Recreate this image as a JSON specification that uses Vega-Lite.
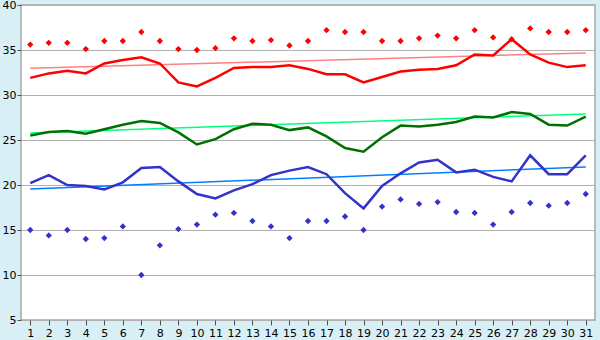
{
  "$schema": "https://vega.github.io/schema/vega-lite/v6.json",
  "autosize": "none",
  "width": 574,
  "height": 315,
  "padding": {"left": 21, "top": 5, "right": 5, "bottom": 20},
  "background": "#d9eff6",
  "config": {
    "view": {"fill": "white", "stroke": "#a8a8a8", "strokeWidth": 1.5},
    "axis": {"labelFont": "DejaVu Sans", "labelFontSize": 11, "labelColor": "black", "domainColor": "#a8a8a8", "tickColor": "#505050", "gridColor": "#b0b0b0", "title": null}
  },
  "datasets": {
    "d": [
      {"day": 1, "rd": 35.6, "rl": 31.9, "gl": 25.5, "bl": 20.2, "bd": 15.0},
      {"day": 2, "rd": 35.8, "rl": 32.4, "gl": 25.9, "bl": 21.1, "bd": 14.4},
      {"day": 3, "rd": 35.8, "rl": 32.7, "gl": 26.0, "bl": 20.0, "bd": 15.0},
      {"day": 4, "rd": 35.1, "rl": 32.4, "gl": 25.7, "bl": 19.9, "bd": 14.0},
      {"day": 5, "rd": 36.0, "rl": 33.5, "gl": 26.2, "bl": 19.5, "bd": 14.1},
      {"day": 6, "rd": 36.0, "rl": 33.9, "gl": 26.7, "bl": 20.3, "bd": 15.4},
      {"day": 7, "rd": 37.0, "rl": 34.2, "gl": 27.1, "bl": 21.9, "bd": 10.0},
      {"day": 8, "rd": 36.0, "rl": 33.5, "gl": 26.9, "bl": 22.0, "bd": 13.3},
      {"day": 9, "rd": 35.1, "rl": 31.4, "gl": 25.85, "bl": 20.4, "bd": 15.1},
      {"day": 10, "rd": 35.0, "rl": 30.95, "gl": 24.5, "bl": 19.0, "bd": 15.6},
      {"day": 11, "rd": 35.2, "rl": 31.9, "gl": 25.1, "bl": 18.5, "bd": 16.7},
      {"day": 12, "rd": 36.3, "rl": 33.0, "gl": 26.2, "bl": 19.4, "bd": 16.9},
      {"day": 13, "rd": 36.0, "rl": 33.1, "gl": 26.8, "bl": 20.1, "bd": 16.0},
      {"day": 14, "rd": 36.1, "rl": 33.1, "gl": 26.7, "bl": 21.1, "bd": 15.4},
      {"day": 15, "rd": 35.5, "rl": 33.3, "gl": 26.1, "bl": 21.6, "bd": 14.1},
      {"day": 16, "rd": 36.0, "rl": 32.9, "gl": 26.4, "bl": 22.0, "bd": 16.0},
      {"day": 17, "rd": 37.2, "rl": 32.3, "gl": 25.4, "bl": 21.2, "bd": 16.0},
      {"day": 18, "rd": 37.0, "rl": 32.3, "gl": 24.1, "bl": 19.1, "bd": 16.5},
      {"day": 19, "rd": 37.0, "rl": 31.4, "gl": 23.7, "bl": 17.4, "bd": 15.0},
      {"day": 20, "rd": 36.0, "rl": 32.0, "gl": 25.3, "bl": 19.9, "bd": 17.6},
      {"day": 21, "rd": 36.0, "rl": 32.6, "gl": 26.6, "bl": 21.3, "bd": 18.4},
      {"day": 22, "rd": 36.3, "rl": 32.8, "gl": 26.5, "bl": 22.5, "bd": 17.9},
      {"day": 23, "rd": 36.6, "rl": 32.9, "gl": 26.7, "bl": 22.8, "bd": 18.1},
      {"day": 24, "rd": 36.3, "rl": 33.3, "gl": 27.0, "bl": 21.4, "bd": 17.0},
      {"day": 25, "rd": 37.2, "rl": 34.5, "gl": 27.6, "bl": 21.7, "bd": 16.9},
      {"day": 26, "rd": 36.4, "rl": 34.4, "gl": 27.5, "bl": 20.9, "bd": 15.6},
      {"day": 27, "rd": 36.2, "rl": 36.2, "gl": 28.1, "bl": 20.4, "bd": 17.0},
      {"day": 28, "rd": 37.4, "rl": 34.5, "gl": 27.9, "bl": 23.3, "bd": 18.0},
      {"day": 29, "rd": 37.0, "rl": 33.6, "gl": 26.7, "bl": 21.2, "bd": 17.7},
      {"day": 30, "rd": 37.0, "rl": 33.1, "gl": 26.6, "bl": 21.2, "bd": 18.0},
      {"day": 31, "rd": 37.2, "rl": 33.3, "gl": 27.6, "bl": 23.3, "bd": 19.0}
    ],
    "t": [
      {"day": 1, "rt": 32.96, "gt": 25.78, "bt": 19.55},
      {"day": 31, "rt": 34.67, "gt": 27.9, "bt": 22.0}
    ]
  },
  "encoding": {
    "x": {"field": "day", "type": "quantitative", "scale": {"domain": [0.5, 31.5], "nice": false, "zero": false},
      "axis": {"values": [1,2,3,4,5,6,7,8,9,10,11,12,13,14,15,16,17,18,19,20,21,22,23,24,25,26,27,28,29,30,31], "grid": false, "tickSize": 5, "labelPadding": 2, "domain": false}}
  },
  "layer": [
    {"data": {"name": "t"}, "mark": {"type": "line", "color": "#ff8080", "strokeWidth": 1.5},
     "encoding": {"y": {"field": "rt", "type": "quantitative", "scale": {"domain": [5, 40], "nice": false, "zero": false},
       "axis": {"values": [5,10,15,20,25,30,35,40], "grid": true, "tickSize": 4, "labelPadding": 1, "domain": false}}}},
    {"data": {"name": "t"}, "mark": {"type": "line", "color": "#00ff80", "strokeWidth": 1.5},
     "encoding": {"y": {"field": "gt", "type": "quantitative"}}},
    {"data": {"name": "t"}, "mark": {"type": "line", "color": "#0080ff", "strokeWidth": 1.5},
     "encoding": {"y": {"field": "bt", "type": "quantitative"}}},
    {"data": {"name": "d"}, "mark": {"type": "line", "color": "#ff0000", "strokeWidth": 2.5},
     "encoding": {"y": {"field": "rl", "type": "quantitative"}}},
    {"data": {"name": "d"}, "mark": {"type": "line", "color": "#007000", "strokeWidth": 2.5},
     "encoding": {"y": {"field": "gl", "type": "quantitative"}}},
    {"data": {"name": "d"}, "mark": {"type": "line", "color": "#3333cc", "strokeWidth": 2.5},
     "encoding": {"y": {"field": "bl", "type": "quantitative"}}},
    {"data": {"name": "d"}, "mark": {"type": "point", "shape": "diamond", "filled": true, "color": "#ff0000", "size": 40, "opacity": 1},
     "encoding": {"y": {"field": "rd", "type": "quantitative"}}},
    {"data": {"name": "d"}, "mark": {"type": "point", "shape": "diamond", "filled": true, "color": "#3333cc", "size": 40, "opacity": 1},
     "encoding": {"y": {"field": "bd", "type": "quantitative"}}}
  ]
}
